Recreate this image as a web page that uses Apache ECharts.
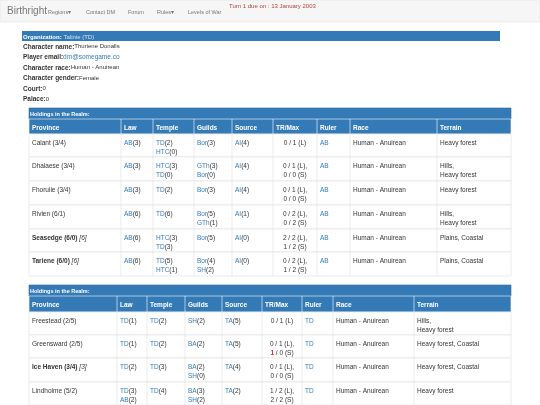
<!DOCTYPE html>
<html><head><meta charset="utf-8">
<script src="https://cdn.jsdelivr.net/npm/echarts@6/dist/echarts.min.js"></script>
<style>html,body{margin:0;padding:0;background:#fff}#c{width:540px;height:405px}</style>
</head><body><div id="c"></div>
<script>
const navItems = ["Regions▾","Contact DM","Forum","Rules▾","Levels of War"];
const turnText = "Turn 1 due on : 13 January 2003";
const infoLines = ["{b|Character name:}Thuriene Donalls","{b|Player email:}{a|dm@somegame.co}","{b|Character race:}Human - Anuirean","{b|Character gender:}Female","{b|Court:}0","{b|Palace:}0"];
const headers = ["Province","Law","Temple","Guilds","Source","TR/Max","Ruler","Race","Terrain"];

const province1 = ["Calant (3/4)","Dhalaese (3/4)","Fhoruile (3/4)","Rivien (6/1)","{b|Seasedge (6/0)} {i|[6]}","{b|Tariene (6/0)} {i|[6]}"];
const law1 = ["{a|AB}(3)","{a|AB}(3)","{a|AB}(3)","{a|AB}(6)","{a|AB}(6)","{a|AB}(6)"];
const temple1 = ["{a|TD}(2)\n{a|HTC}(0)","{a|HTC}(3)\n{a|TD}(0)","{a|TD}(2)","{a|TD}(6)","{a|HTC}(3)\n{a|TD}(3)","{a|TD}(5)\n{a|HTC}(1)"];
const guilds1 = ["{a|Bor}(3)","{a|GTh}(3)\n{a|Bor}(0)","{a|Bor}(3)","{a|Bor}(5)\n{a|GTh}(1)","{a|Bor}(5)","{a|Bor}(4)\n{a|SH}(2)"];
const source1 = ["{a|AI}(4)","{a|AI}(4)","{a|AI}(4)","{a|AI}(1)","{a|AI}(0)","{a|AI}(0)"];
const trmax1 = ["0 / 1 (L)","0 / 1 (L),\n0 / 0 (S)","0 / 1 (L),\n0 / 0 (S)","0 / 2 (L),\n0 / 2 (S)","2 / 2 (L),\n1 / 2 (S)","0 / 2 (L),\n1 / 2 (S)"];
const ruler1 = ["{a|AB}","{a|AB}","{a|AB}","{a|AB}","{a|AB}","{a|AB}"];
const race1 = ["Human - Anuirean","Human - Anuirean","Human - Anuirean","Human - Anuirean","Human - Anuirean","Human - Anuirean"];
const terrain1 = ["Heavy forest","Hills,\nHeavy forest","Heavy forest","Hills,\nHeavy forest","Plains, Coastal","Plains, Coastal"];

const province2 = ["Freestead (2/5)","Greensward (2/5)","{b|Ice Haven (3/4)} {i|[3]}","Lindholme (5/2)"];
const law2 = ["{a|TD}(1)","{a|TD}(1)","{a|TD}(2)","{a|TD}(3)\n{a|AB}(2)"];
const temple2 = ["{a|TD}(2)","{a|TD}(2)","{a|TD}(3)","{a|TD}(4)"];
const guilds2 = ["{a|SH}(2)","{a|BA}(2)","{a|BA}(2)\n{a|SH}(0)","{a|BA}(3)\n{a|SH}(2)"];
const source2 = ["{a|TA}(5)","{a|TA}(5)","{a|TA}(4)","{a|TA}(2)"];
const trmax2 = ["0 / 1 (L)","0 / 1 (L),\n{r|1} / 0 (S)","0 / 1 (L),\n0 / 0 (S)","1 / 2 (L),\n2 / 2 (S)"];
const ruler2 = ["{a|TD}","{a|TD}","{a|TD}","{a|TD}"];
const race2 = ["Human - Anuirean","Human - Anuirean","Human - Anuirean","Human - Anuirean"];
const terrain2 = ["Hills,\nHeavy forest","Heavy forest, Coastal","Heavy forest, Coastal","Heavy forest"];

const FF = "Liberation Sans, Arial, sans-serif";
const rich = {
  a:{fill:"#337ab7",fontSize:6.5,fontFamily:FF,lineHeight:9.5},
  b:{fill:"#333",fontSize:6.5,fontWeight:"bold",fontFamily:FF,lineHeight:9.5},
  i:{fill:"#333",fontSize:6.5,fontStyle:"italic",fontFamily:FF,lineHeight:9.5},
  r:{fill:"#d9232a",fontSize:6.5,fontWeight:"bold",fontFamily:FF,lineHeight:9.5}
};
const g = [];
function txt(x,y,s,o){g.push({type:'text',x,y,silent:true,style:Object.assign({text:s,fill:'#333',fontSize:6.5,fontFamily:FF,lineHeight:9.5,rich},o||{})});}
function rect(x,y,w,h,fill,stroke){g.push({type:'rect',silent:true,shape:{x,y,width:w,height:h},style:{fill,stroke:stroke||null,lineWidth:0.6}});}

// navbar
rect(0,0,540,22,'#f6f6f6','#e2e2e2');
txt(7,6,"Birthright",{fill:'#777',fontSize:10});
const navX=[48,86,128,157,188];
navItems.forEach((s,i)=>txt(navX[i],8,s,{fill:'#777',fontSize:5.5}));
txt(229,2,turnText,{fill:'#a94442',fontSize:6});

// org header
rect(22,31,478,10,'#337ab7');
txt(23,33,"{w|Organization:} {l|Talinie (TD)}",{rich:{w:{fill:'#fff',fontWeight:'bold',fontSize:6,fontFamily:FF},l:{fill:'#cfe3f5',fontSize:6,fontFamily:FF}}});
infoLines.forEach((s,i)=>txt(23,42+i*10.5,s,{fontSize:6}));

function table(top,cols,rows,cells){
  const L=cols[0],R=cols[cols.length-1];
  rect(L,top,R-L,rows[0]-top,'#337ab7','#2e6da4');
  txt(L+1,top+2,"Holdings in the Realm:",{fill:'#fff',fontWeight:'bold',fontSize:5.5});
  rect(L,rows[0],R-L,rows[1]-rows[0],'#337ab7','#ffffff');
  headers.forEach((h,j)=>{
    txt(cols[j]+3,rows[0]+4,h,{fill:'#fff',fontWeight:'bold',fontSize:6.5});
    if(j>0) g.push({type:'line',silent:true,shape:{x1:cols[j],y1:rows[0],x2:cols[j],y2:rows[1]},style:{stroke:'#fff',lineWidth:0.6}});
  });
  for(let r=1;r<rows.length-1;r++){
    rect(L,rows[r],R-L,rows[r+1]-rows[r],'#fff','#ddd');
    for(let j=1;j<cols.length-1;j++) g.push({type:'line',silent:true,shape:{x1:cols[j],y1:rows[r],x2:cols[j],y2:rows[r+1]},style:{stroke:'#ddd',lineWidth:0.6}});
    cells.forEach((arr,j)=>{
      const s=arr[r-1];
      if(j===5) txt((cols[j]+cols[j+1])/2,rows[r]+4,s,{align:'center'});
      else txt(cols[j]+3,rows[r]+4,s);
    });
  }
}
table(108,[29,121,153,194,232,273,317,350,437,511],[119,134,157,181,205,229,252,276],
  [province1,law1,temple1,guilds1,source1,trmax1,ruler1,race1,terrain1]);
table(285,[29,117,147,185,222,262,302,333,414,511],[296,312,335,358,382,405],
  [province2,law2,temple2,guilds2,source2,trmax2,ruler2,race2,terrain2]);

const chart=echarts.init(document.getElementById('c'),null,{renderer:'canvas'});
chart.setOption({animation:false,graphic:{elements:g}});
</script></body></html>
